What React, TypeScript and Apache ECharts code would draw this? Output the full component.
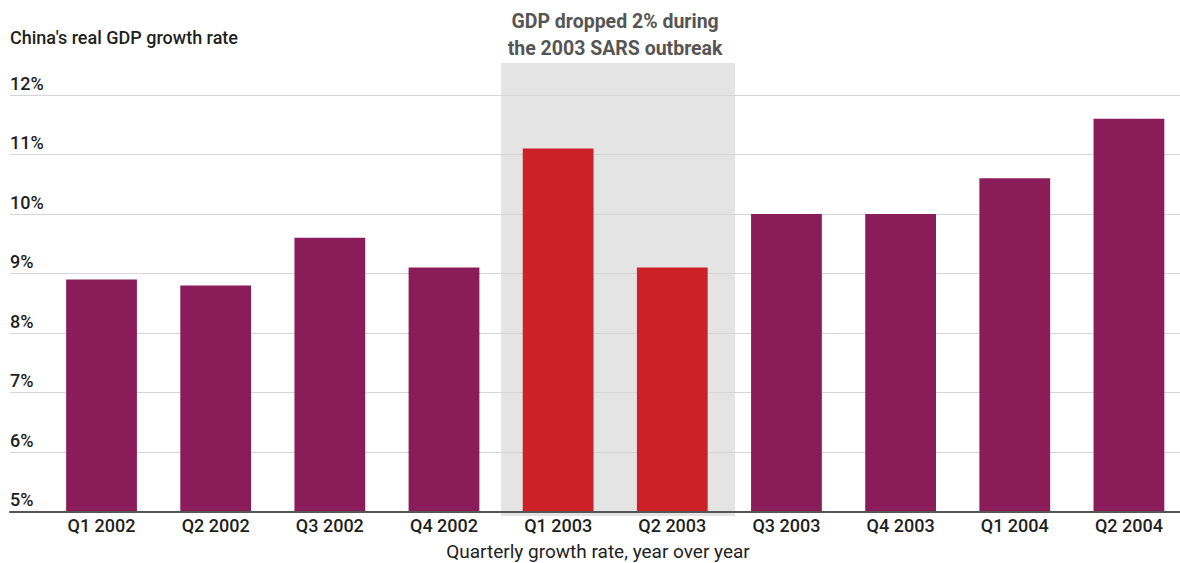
import React, { useEffect, useRef } from "react";
import * as echarts from "echarts";

const categories = ["Q1 2002", "Q2 2002", "Q3 2002", "Q4 2002", "Q1 2003", "Q2 2003", "Q3 2003", "Q4 2003", "Q1 2004", "Q2 2004"];
const growth = [8.9, 8.8, 9.6, 9.1, 11.1, 9.1, 10.0, 10.0, 10.6, 11.6];
const sarsQuarters = ["Q1 2003", "Q2 2003"];
const yMin = 5;
const yMax = 12;
const yInterval = 1;

const titleText = "China's real GDP growth rate";
const xAxisTitle = "Quarterly growth rate, year over year";
const noteLines = ["GDP dropped 2% during", "the 2003 SARS outbreak"];

const PURPLE = "#8a1c5a";
const RED = "#cc2127";
const FONT = "Roboto";

export default function App() {
  const ref = useRef<HTMLDivElement>(null);

  useEffect(() => {
    if (!ref.current) return;
    const chart = echarts.init(ref.current, undefined, { renderer: "svg" });
    const gridTop = 95;
    const gridBottom = 51.5;
    const option: any = {
      animation: false,
      backgroundColor: "#ffffff",
      textStyle: { fontFamily: FONT },
      title: [
        {
          text: titleText,
          left: 10,
          top: 28,
          padding: 0,
          textStyle: { fontFamily: FONT, fontSize: 18, fontWeight: 500, color: "#1f1f1f" },
        },
        {
          text: xAxisTitle,
          left: 598,
          textAlign: "center",
          top: 542,
          padding: 0,
          textStyle: { fontFamily: FONT, fontSize: 19, fontWeight: 400, color: "#222222" },
        },
      ],
      grid: [
        { left: 10, right: 0, top: gridTop, bottom: gridBottom },
        { left: 44.45, right: 0, top: gridTop, bottom: gridBottom },
      ],
      xAxis: [
        {
          gridIndex: 0,
          type: "value",
          min: 0,
          max: 1,
          axisLine: { show: true, lineStyle: { color: "#555555", width: 2 } },
          axisTick: { show: false },
          axisLabel: { show: false },
          splitLine: { show: false },
          z: 5,
        },
        {
          gridIndex: 1,
          type: "category",
          data: categories,
          axisLine: { show: false },
          axisTick: { show: false },
          axisLabel: {
            margin: 5,
            fontFamily: FONT,
            fontSize: 18,
            fontWeight: 500,
            color: "#1f1f1f",
            interval: 0,
          },
        },
      ],
      yAxis: [
        {
          gridIndex: 0,
          type: "value",
          min: yMin,
          max: yMax,
          interval: yInterval,
          axisLine: { show: false },
          axisTick: { show: false },
          splitLine: { show: true, lineStyle: { color: "#d6d6d6", width: 1 } },
          axisLabel: {
            inside: true,
            margin: 0,
            verticalAlign: "bottom",
            padding: [0, 0, 3, 0],
            formatter: "{value}%",
            fontFamily: FONT,
            fontSize: 18,
            fontWeight: 500,
            color: "#1f1f1f",
          },
        },
        {
          gridIndex: 1,
          type: "value",
          min: yMin,
          max: yMax,
          interval: yInterval,
          show: false,
          splitLine: { show: false },
        },
      ],
      series: [
        {
          type: "bar",
          xAxisIndex: 1,
          yAxisIndex: 1,
          barWidth: "62%",
          data: growth.map((v, i) => ({
            value: v,
            itemStyle: { color: sarsQuarters.includes(categories[i]) ? RED : PURPLE },
          })),
          z: 3,
        },
      ],
    };
    chart.setOption(option);

    const i0 = categories.indexOf(sarsQuarters[0]);
    const i1 = categories.indexOf(sarsQuarters[sarsQuarters.length - 1]);
    const c0 = chart.convertToPixel({ xAxisIndex: 1 }, categories[i0]) as number;
    const c1 = chart.convertToPixel({ xAxisIndex: 1 }, categories[i1]) as number;
    const bw = (c1 - c0) / Math.max(1, i1 - i0);
    const yTopPx = 63;
    const yBottomPx = 516;
    const x0 = c0 - bw * 0.5;
    const x1 = c1 + bw * 0.55;
    const cx = (x0 + x1) / 2 - 3;

    chart.setOption({
      graphic: [
        {
          type: "rect",
          z: -10,
          shape: { x: x0, y: yTopPx, width: x1 - x0, height: yBottomPx - yTopPx },
          style: { fill: "#e4e4e4" },
          silent: true,
        },
        {
          type: "text",
          x: cx,
          y: 8,
          style: {
            text: noteLines.join("\n"),
            align: "center",
            verticalAlign: "top",
            lineHeight: 27,
            fontFamily: FONT,
            fontSize: 19.5,
            fontWeight: 700,
            fill: "#555555",
          },
        },
      ],
    });

    return () => chart.dispose();
  }, []);

  return (
    <div style={{ position: "fixed", left: 0, top: 0, width: 1180, height: 563, overflow: "hidden", background: "#fff" }}>
      <div ref={ref} style={{ width: 1186, height: 563 }} />
    </div>
  );
}
